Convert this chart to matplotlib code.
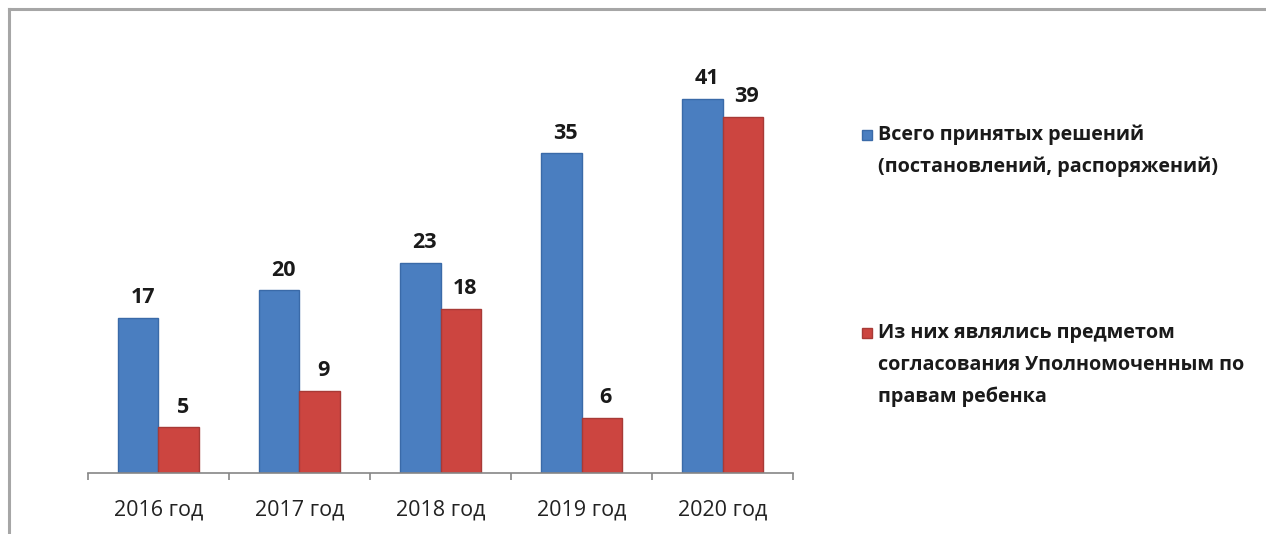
import numpy as np
import matplotlib.pyplot as plt
from matplotlib.patches import Rectangle
from matplotlib.lines import Line2D

plt.rcParams['font.family'] = ['Open Sans', 'DejaVu Sans']

years = ['2016 год', '2017 год', '2018 год', '2019 год', '2020 год']
total = [17, 20, 23, 35, 41]
agreed = [5, 9, 18, 6, 39]
label_total = 'Всего принятых решений\n(постановлений, распоряжений)'
label_agreed = 'Из них являлись предметом\nсогласования Уполномоченным по\nправам ребенка'

c_blue = '#4a7ec0'
c_red = '#cc4540'

fig = plt.figure(figsize=(12.66, 5.34), dpi=100)
ax = fig.add_axes([0.0695, 0.1142, 0.5569, 0.7697])

x = np.arange(len(years))
w = 0.284
b1 = ax.bar(x - w/2, total, w, color=c_blue, edgecolor='#3a6aa8', linewidth=1)
b2 = ax.bar(x + w/2, agreed, w, color=c_red, edgecolor='#a83a36', linewidth=1)

for bars in (b1, b2):
    for r in bars:
        ax.annotate(str(int(r.get_height())), (r.get_x() + r.get_width()/2, r.get_height()),
                    xytext=(3, 7), textcoords='offset points', ha='center', va='bottom',
                    fontsize=15.5, fontweight='bold', color='#1a1a1a')

ax.set_xlim(-0.5, len(years) - 0.5)
ax.set_ylim(0, 45)
ax.set_xticks(x)
ax.set_xticklabels(years, fontsize=15.5, color='#222222')
ax.set_xticks(np.arange(len(years) + 1) - 0.5, minor=True)
ax.tick_params(axis='x', which='major', length=0, pad=19)
ax.tick_params(axis='x', which='minor', length=5, color='#868686', width=1.2, direction='out')
ax.set_yticks([])
for s in ['top', 'right', 'left']:
    ax.spines[s].set_visible(False)
ax.spines['bottom'].set_color('#868686')
ax.spines['bottom'].set_linewidth(1.2)

# legend, drawn by hand so the marker sits on the first line
fx, fy = 862/1266, 1 - 135/534
fig.patches.append(Rectangle((fx, fy - 0.009), 10/1266, 10/534, transform=fig.transFigure,
                             facecolor=c_blue, edgecolor='#3a6aa8'))
fig.text(fx + 16/1266, fy + 0.019, label_total, fontsize=14.2, fontweight='bold',
         color='#1a1a1a', va='top', linespacing=1.75)
fy = 1 - 333/534
fig.patches.append(Rectangle((fx, fy - 0.009), 10/1266, 10/534, transform=fig.transFigure,
                             facecolor=c_red, edgecolor='#a83a36'))
fig.text(fx + 16/1266, fy + 0.019, label_agreed, fontsize=14.2, fontweight='bold',
         color='#1a1a1a', va='top', linespacing=1.78)

# grey frame at top and left
fig.add_artist(Line2D([9/1266, 1], [1 - 9/534, 1 - 9/534], color='#a6a6a6', lw=2.2))
fig.add_artist(Line2D([9/1266, 9/1266], [0, 1 - 9/534], color='#a6a6a6', lw=2.2))

plt.savefig('out.png', dpi=100)
